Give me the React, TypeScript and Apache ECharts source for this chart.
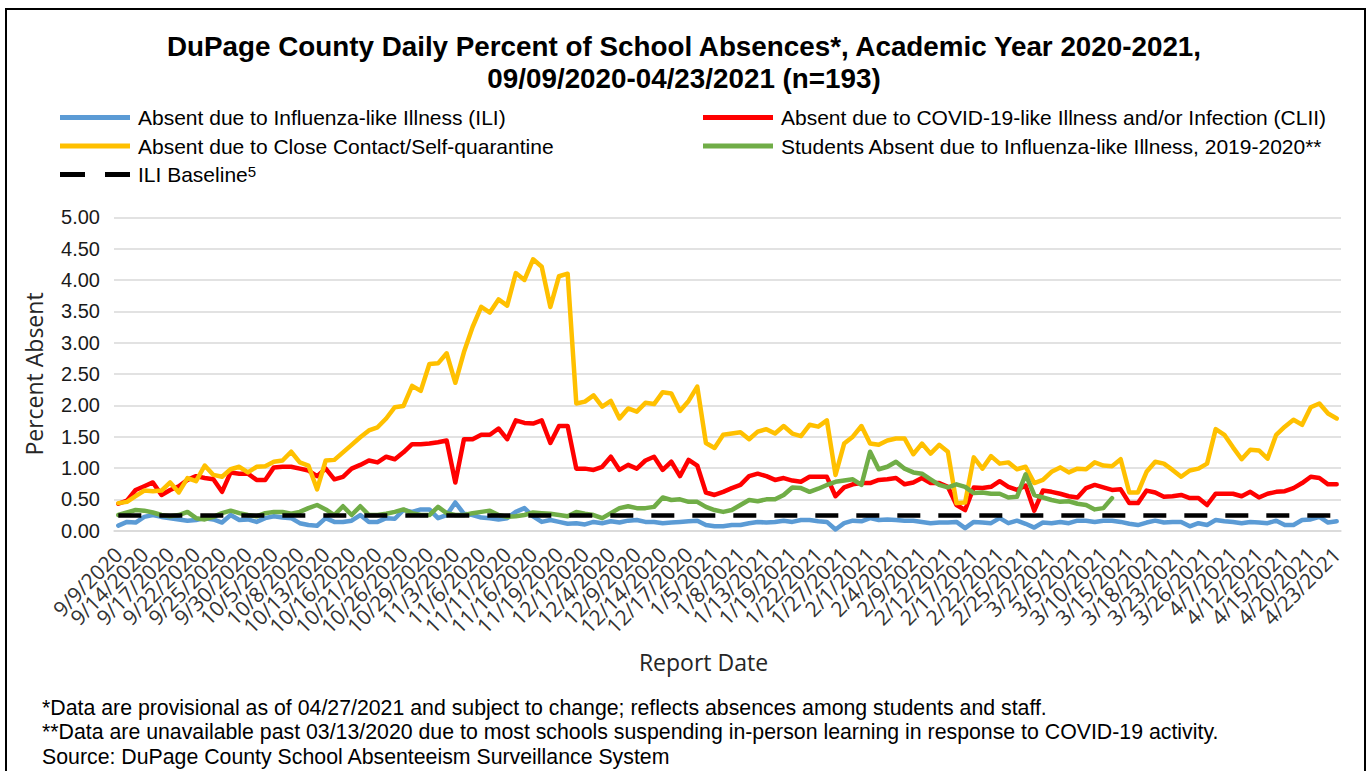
import React, { useEffect, useRef } from "react";
import * as echarts from "echarts";

const DATES = [
  "9/9/2020", "9/10/2020", "9/11/2020", "9/14/2020", "9/15/2020", "9/16/2020", "9/17/2020", "9/18/2020", "9/21/2020", "9/22/2020",
  "9/23/2020", "9/24/2020", "9/25/2020", "9/28/2020", "9/29/2020", "9/30/2020", "10/1/2020", "10/2/2020", "10/5/2020", "10/6/2020",
  "10/7/2020", "10/8/2020", "10/9/2020", "10/12/2020", "10/13/2020", "10/14/2020", "10/15/2020", "10/16/2020", "10/19/2020", "10/20/2020",
  "10/21/2020", "10/22/2020", "10/23/2020", "10/26/2020", "10/27/2020", "10/28/2020", "10/29/2020", "10/30/2020", "11/2/2020", "11/3/2020",
  "11/4/2020", "11/5/2020", "11/6/2020", "11/9/2020", "11/10/2020", "11/11/2020", "11/12/2020", "11/13/2020", "11/16/2020", "11/17/2020",
  "11/18/2020", "11/19/2020", "11/20/2020", "11/30/2020", "12/1/2020", "12/2/2020", "12/3/2020", "12/4/2020", "12/7/2020", "12/8/2020",
  "12/9/2020", "12/10/2020", "12/11/2020", "12/14/2020", "12/15/2020", "12/16/2020", "12/17/2020", "12/18/2020", "1/4/2021", "1/5/2021",
  "1/6/2021", "1/7/2021", "1/8/2021", "1/11/2021", "1/12/2021", "1/13/2021", "1/14/2021", "1/15/2021", "1/19/2021", "1/20/2021",
  "1/21/2021", "1/22/2021", "1/25/2021", "1/26/2021", "1/27/2021", "1/28/2021", "1/29/2021", "2/1/2021", "2/2/2021", "2/3/2021",
  "2/4/2021", "2/5/2021", "2/8/2021", "2/9/2021", "2/10/2021", "2/11/2021", "2/12/2021", "2/15/2021", "2/16/2021", "2/17/2021",
  "2/18/2021", "2/19/2021", "2/22/2021", "2/23/2021", "2/24/2021", "2/25/2021", "2/26/2021", "3/1/2021", "3/2/2021", "3/3/2021",
  "3/4/2021", "3/5/2021", "3/8/2021", "3/9/2021", "3/10/2021", "3/11/2021", "3/12/2021", "3/15/2021", "3/16/2021", "3/17/2021",
  "3/18/2021", "3/19/2021", "3/22/2021", "3/23/2021", "3/24/2021", "3/25/2021", "3/26/2021", "4/5/2021", "4/6/2021", "4/7/2021",
  "4/8/2021", "4/9/2021", "4/12/2021", "4/13/2021", "4/14/2021", "4/15/2021", "4/16/2021", "4/19/2021", "4/20/2021", "4/21/2021",
  "4/22/2021", "4/23/2021",
];

// every third school day carries a tick label
const LABEL_EVERY = 3;

const ILI = [
  0.08, 0.14, 0.13, 0.22, 0.25, 0.22, 0.20, 0.18, 0.16, 0.17, 0.20, 0.18, 0.13, 0.25, 0.17, 0.18, 0.14, 0.20, 0.23, 0.21,
  0.20, 0.12, 0.09, 0.08, 0.20, 0.14, 0.14, 0.16, 0.25, 0.14, 0.14, 0.20, 0.19, 0.33, 0.30, 0.34, 0.34, 0.20, 0.25, 0.45,
  0.27, 0.25, 0.21, 0.20, 0.18, 0.20, 0.30, 0.36, 0.23, 0.14, 0.17, 0.14, 0.11, 0.12, 0.10, 0.14, 0.12, 0.15, 0.13, 0.16,
  0.17, 0.14, 0.14, 0.12, 0.13, 0.14, 0.15, 0.16, 0.09, 0.07, 0.07, 0.09, 0.09, 0.12, 0.14, 0.13, 0.14, 0.16, 0.14, 0.17,
  0.17, 0.15, 0.14, 0.02, 0.12, 0.16, 0.15, 0.20, 0.17, 0.18, 0.17, 0.16, 0.16, 0.14, 0.12, 0.13, 0.13, 0.14, 0.04, 0.14,
  0.13, 0.12, 0.20, 0.12, 0.16, 0.11, 0.05, 0.13, 0.12, 0.14, 0.12, 0.16, 0.16, 0.14, 0.16, 0.16, 0.14, 0.11, 0.09, 0.13,
  0.16, 0.13, 0.14, 0.14, 0.07, 0.12, 0.09, 0.17, 0.15, 0.14, 0.12, 0.14, 0.13, 0.12, 0.16, 0.09, 0.09, 0.17, 0.18, 0.22,
  0.13, 0.15,
];

const CLII = [
  0.43, 0.48, 0.65, 0.71, 0.77, 0.57, 0.65, 0.71, 0.81, 0.87, 0.84, 0.82, 0.62, 0.93, 0.91, 0.91, 0.81, 0.81, 1.01, 1.02,
  1.02, 0.99, 0.96, 0.87, 0.99, 0.82, 0.86, 0.99, 1.05, 1.12, 1.09, 1.18, 1.14, 1.25, 1.38, 1.38, 1.39, 1.41, 1.44, 0.77,
  1.46, 1.46, 1.53, 1.53, 1.63, 1.46, 1.76, 1.72, 1.71, 1.76, 1.40, 1.67, 1.67, 0.99, 0.99, 0.97, 1.02, 1.18, 0.97, 1.05,
  0.99, 1.12, 1.18, 0.97, 1.10, 0.87, 1.13, 1.04, 0.61, 0.57, 0.62, 0.68, 0.73, 0.87, 0.91, 0.87, 0.81, 0.84, 0.80, 0.78,
  0.86, 0.86, 0.86, 0.55, 0.69, 0.74, 0.76, 0.76, 0.81, 0.82, 0.84, 0.74, 0.77, 0.84, 0.76, 0.76, 0.70, 0.41, 0.33, 0.69,
  0.68, 0.70, 0.79, 0.70, 0.65, 0.72, 0.32, 0.64, 0.62, 0.59, 0.55, 0.53, 0.68, 0.73, 0.69, 0.65, 0.66, 0.44, 0.44, 0.64,
  0.61, 0.54, 0.55, 0.57, 0.52, 0.52, 0.41, 0.59, 0.59, 0.59, 0.55, 0.62, 0.53, 0.59, 0.62, 0.63, 0.68, 0.76, 0.86, 0.84,
  0.74, 0.74,
];

const CLOSE_CONTACT = [
  0.44, 0.46, 0.55, 0.64, 0.63, 0.64, 0.77, 0.61, 0.84, 0.79, 1.04, 0.89, 0.86, 0.98, 1.02, 0.93, 1.02, 1.03, 1.10, 1.12,
  1.26, 1.09, 1.04, 0.66, 1.12, 1.13, 1.25, 1.37, 1.49, 1.60, 1.65, 1.79, 1.97, 1.99, 2.31, 2.23, 2.66, 2.67, 2.83, 2.36,
  2.85, 3.25, 3.57, 3.48, 3.69, 3.59, 4.11, 4.00, 4.33, 4.21, 3.57, 4.06, 4.10, 2.03, 2.06, 2.16, 1.98, 2.07, 1.79, 1.95,
  1.90, 2.04, 2.02, 2.21, 2.19, 1.91, 2.07, 2.30, 1.40, 1.32, 1.53, 1.55, 1.57, 1.46, 1.58, 1.62, 1.55, 1.67, 1.55, 1.51,
  1.69, 1.66, 1.76, 0.89, 1.39, 1.50, 1.67, 1.39, 1.37, 1.44, 1.47, 1.47, 1.22, 1.39, 1.23, 1.37, 1.26, 0.44, 0.45, 1.17,
  0.99, 1.19, 1.07, 1.09, 0.98, 1.02, 0.76, 0.81, 0.94, 1.01, 0.93, 0.99, 0.98, 1.09, 1.04, 1.03, 1.14, 0.61, 0.61, 0.94,
  1.10, 1.07, 0.97, 0.86, 0.96, 0.99, 1.07, 1.62, 1.53, 1.33, 1.14, 1.29, 1.28, 1.15, 1.53, 1.66, 1.77, 1.69, 1.97, 2.03,
  1.87, 1.79,
];

const ILI_2019_2020 = [
  0.25, 0.29, 0.33, 0.32, 0.29, 0.25, 0.23, 0.25, 0.30, 0.20, 0.18, 0.22, 0.28, 0.32, 0.28, 0.25, 0.23, 0.28, 0.30, 0.30,
  0.27, 0.30, 0.36, 0.41, 0.34, 0.25, 0.39, 0.25, 0.39, 0.25, 0.25, 0.27, 0.30, 0.34, 0.28, 0.25, 0.25, 0.38, 0.28, 0.25,
  0.25, 0.28, 0.30, 0.32, 0.25, 0.22, 0.23, 0.25, 0.29, 0.28, 0.27, 0.25, 0.23, 0.30, 0.27, 0.25, 0.20, 0.28, 0.36, 0.39,
  0.36, 0.36, 0.38, 0.53, 0.49, 0.50, 0.46, 0.46, 0.38, 0.33, 0.30, 0.33, 0.41, 0.49, 0.47, 0.50, 0.50, 0.57, 0.69, 0.68,
  0.62, 0.67, 0.73, 0.78, 0.80, 0.82, 0.73, 1.26, 0.98, 1.02, 1.10, 0.99, 0.93, 0.91, 0.82, 0.73, 0.69, 0.74, 0.70, 0.60,
  0.61, 0.59, 0.59, 0.53, 0.54, 0.90, 0.57, 0.53, 0.49, 0.46, 0.47, 0.43, 0.41, 0.34, 0.36, 0.52,
];

const ILI_BASELINE = 0.25;

const Y_MIN = 0;
const Y_MAX = 5;
const Y_STEP = 0.5;

const SERIES_NAMES = [
  "Absent due to Influenza-like Illness (ILI)",
  "Absent due to COVID-19-like Illness and/or Infection (CLII)",
  "Absent due to Close Contact/Self-quarantine",
  "Students Absent due to Influenza-like Illness, 2019-2020**",
  "ILI Baseline",
];
const SERIES_COLORS = ["#5B9BD5", "#FF0000", "#FFC000", "#70AD47", "#000000"];

const TITLE_LINES = [
  "DuPage County Daily Percent of School Absences*, Academic Year 2020-2021,",
  "09/09/2020-04/23/2021 (n=193)",
];

const FOOTNOTES = [
  "*Data are provisional as of 04/27/2021 and subject to change; reflects absences among students and staff.",
  "**Data are unavailable past 03/13/2020 due to most schools suspending in-person learning in response to COVID-19 activity.",
  "Source: DuPage County School Absenteeism Surveillance System",
];

const X_TITLE = "Report Date";
const Y_TITLE = "Percent Absent";

const SANS = "'Liberation Sans', Arial, sans-serif";
const AXIS_FONT = "'Open Sans', 'Liberation Sans', sans-serif";
const LINE_W = 4.5;

function buildOption() {
  const legendSlots = [
    { left: 60, top: 107 },
    { left: 703, top: 107 },
    { left: 60, top: 135.5 },
    { left: 703, top: 135.5 },
    { left: 60, top: 164 },
  ];
  const legends = SERIES_NAMES.map((name, i) => ({
    data: [
      {
        name,
        icon: i === 4 ? "path://M0,0H25V5H0Z M45,0H70V5H45Z" : "rect",
      },
    ],
    left: legendSlots[i].left,
    top: legendSlots[i].top,
    padding: 0,
    itemWidth: 70,
    itemHeight: 5,
    itemGap: 0,
    selectedMode: false,
    itemStyle: { borderWidth: 0 },
    formatter: (n: string) => (n === SERIES_NAMES[4] ? "{b|" + n + "}{s|5}" : n),
    textStyle: {
      fontFamily: SANS,
      fontSize: 21,
      color: "#000",
      padding: [0, 0, 0, 3],
      rich: {
        b: { fontFamily: SANS, fontSize: 21, color: "#000" },
        s: { fontFamily: SANS, fontSize: 15, color: "#000", verticalAlign: "top" },
      },
    },
  }));

  const lineSeries = [ILI, CLII, CLOSE_CONTACT, ILI_2019_2020].map((data, i) => ({
    name: SERIES_NAMES[i],
    type: "line",
    data,
    symbol: "none",
    smooth: false,
    itemStyle: { color: SERIES_COLORS[i] },
    lineStyle: { color: SERIES_COLORS[i], width: LINE_W, cap: "round", join: "round" },
    emphasis: { disabled: true },
  }));

  const baselineSeries = {
    name: SERIES_NAMES[4],
    type: "line",
    data: [],
    symbol: "none",
    itemStyle: { color: SERIES_COLORS[4] },
    lineStyle: { color: SERIES_COLORS[4], width: LINE_W, type: [23, 18] },
    markLine: {
      silent: true,
      symbol: ["none", "none"],
      label: { show: false },
      lineStyle: { color: SERIES_COLORS[4], width: LINE_W, type: [23, 18] },
      emphasis: { disabled: true },
      data: [[{ coord: [0, ILI_BASELINE] }, { coord: [DATES.length - 1, ILI_BASELINE] }]],
    },
  };

  return {
    animation: false,
    backgroundColor: "#ffffff",
    title: {
      text: TITLE_LINES.join("\n"),
      left: "center",
      top: 30,
      padding: 0,
      textStyle: {
        fontFamily: SANS,
        fontSize: 27.8,
        fontWeight: "bold",
        color: "#000",
        lineHeight: 32,
      },
    },
    legend: legends,
    grid: {
      left: 114,
      right: 27,
      top: 217.3,
      bottom: 240.3,
      containLabel: false,
      outerBoundsMode: "none",
    },
    xAxis: {
      type: "category",
      data: DATES,
      boundaryGap: true,
      name: X_TITLE,
      nameLocation: "middle",
      nameGap: 120,
      nameTextStyle: {
        fontFamily: AXIS_FONT,
        fontSize: 23,
        color: "#262626",
        padding: [0, 48, 0, 0],
      },
      axisLine: { show: true, lineStyle: { color: "#d9d9d9", width: 1.5 } },
      axisTick: { show: false },
      axisLabel: {
        interval: 0,
        formatter: (v: string, idx: number) => (idx % LABEL_EVERY === 0 ? v : ""),
        rotate: 45,
        margin: 20,
        hideOverlap: false,
        fontFamily: AXIS_FONT,
        fontSize: 21,
        lineHeight: 16,
        color: "#333333",
      },
      splitLine: { show: false },
    },
    yAxis: {
      type: "value",
      min: Y_MIN,
      max: Y_MAX,
      interval: Y_STEP,
      name: Y_TITLE,
      nameLocation: "middle",
      nameGap: 69,
      nameTextStyle: { fontFamily: AXIS_FONT, fontSize: 23, color: "#262626" },
      axisLine: { show: false },
      axisTick: { show: false },
      axisLabel: {
        formatter: (v: number) => v.toFixed(2),
        fontFamily: SANS,
        fontSize: 20,
        color: "#1a1a1a",
        margin: 14,
      },
      splitLine: { show: true, lineStyle: { color: "#d9d9d9", width: 1.5 } },
    },
    series: [...lineSeries, baselineSeries],
    graphic: [
      {
        type: "rect",
        silent: true,
        shape: { x: 6, y: 9, width: 1359, height: 800 },
        style: { fill: "none", stroke: "#000", lineWidth: 2 },
      },
      ...FOOTNOTES.map((t, i) => ({
        type: "text",
        silent: true,
        left: 42,
        top: 697 + i * 24.5,
        style: { text: t, fontFamily: SANS, fontSize: 21.3, fill: "#000" },
      })),
    ],
  };
}

export default function App() {
  const ref = useRef<HTMLDivElement>(null);
  useEffect(() => {
    if (!ref.current) return;
    const chart = echarts.init(ref.current, null, { renderer: "svg" });
    chart.setOption(buildOption() as any);
    return () => chart.dispose();
  }, []);
  return (
    <div
      style={{
        position: "fixed",
        left: 0,
        top: 0,
        width: 1368,
        height: 771,
        background: "#fff",
        overflow: "hidden",
      }}
    >
      <div ref={ref} style={{ width: 1368, height: 771 }} />
    </div>
  );
}
